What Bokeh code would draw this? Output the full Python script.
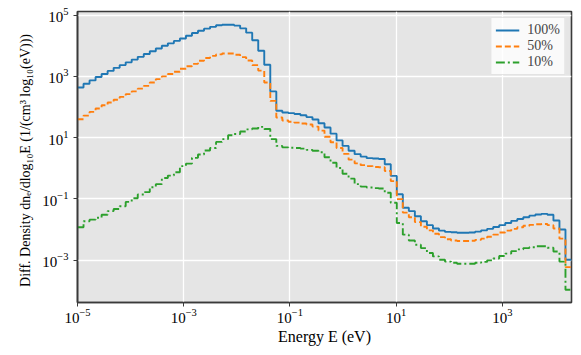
import numpy as np
from bokeh.plotting import figure
from bokeh.models import Range1d, FixedTicker
from bokeh.embed import file_html
from bokeh.resources import INLINE

# Energy bin grid (log-spaced histogram bins, 1e-5 eV .. 2e4 eV)
e_min = 1e-5
e_max = 2e4
n_bins = 82
edges = np.logspace(np.log10(e_min), np.log10(e_max), n_bins + 1)

# Series values, stored as log10(dn/dlog10E)
log_100 = [2.64, 2.76, 2.87, 2.98, 3.08, 3.18, 3.28, 3.37, 3.46, 3.55,
           3.64, 3.73, 3.82, 3.91, 4.00, 4.08, 4.16, 4.24, 4.33, 4.42,
           4.49, 4.56, 4.62, 4.67, 4.69, 4.69, 4.66, 4.57, 4.43, 4.18,
           3.84, 3.38, 2.51, 1.88, 1.82, 1.80, 1.77, 1.73, 1.67, 1.59,
           1.47, 1.33, 1.13, 0.91, 0.73, 0.57, 0.46, 0.38, 0.33, 0.32,
           0.30, 0.13, -0.25, -0.85, -1.29, -1.40, -1.57, -1.73, -1.86, -1.97,
           -2.04, -2.08, -2.09, -2.11, -2.11, -2.10, -2.07, -2.03, -1.98, -1.92,
           -1.86, -1.79, -1.72, -1.66, -1.60, -1.55, -1.51, -1.49, -1.52, -1.71,
           -2.00, -2.99]

log_50 = [1.60, 1.72, 1.84, 1.95, 2.06, 2.15, 2.24, 2.33, 2.42, 2.51,
          2.60, 2.69, 2.80, 2.91, 3.00, 3.08, 3.15, 3.25, 3.33, 3.41,
          3.51, 3.60, 3.67, 3.72, 3.75, 3.75, 3.71, 3.63, 3.52, 3.37,
          3.19, 2.80, 2.20, 1.66, 1.56, 1.52, 1.49, 1.46, 1.43, 1.36,
          1.23, 1.03, 0.85, 0.66, 0.47, 0.28, 0.16, 0.10, 0.07, 0.04,
          0.03, -0.09, -0.42, -1.01, -1.45, -1.60, -1.76, -1.91, -2.03, -2.14,
          -2.25, -2.32, -2.36, -2.38, -2.38, -2.37, -2.34, -2.30, -2.24, -2.17,
          -2.10, -2.04, -1.98, -1.93, -1.88, -1.85, -1.83, -1.82, -1.86, -1.97,
          -2.30, -3.23]

log_10 = [-1.93, -1.73, -1.68, -1.62, -1.52, -1.40, -1.33, -1.24, -1.10, -0.98,
          -0.86, -0.78, -0.62, -0.52, -0.32, -0.24, -0.13, 0.07, 0.15, 0.34,
          0.45, 0.58, 0.66, 0.86, 0.95, 1.08, 1.12, 1.20, 1.27, 1.30,
          1.35, 1.28, 0.95, 0.73, 0.68, 0.67, 0.66, 0.64, 0.60, 0.57,
          0.52, 0.36, 0.18, 0.01, -0.18, -0.34, -0.52, -0.60, -0.63, -0.65,
          -0.66, -0.80, -1.13, -1.79, -2.17, -2.36, -2.50, -2.61, -2.77, -2.88,
          -2.99, -3.05, -3.09, -3.12, -3.12, -3.12, -3.09, -3.06, -3.01, -2.95,
          -2.87, -2.79, -2.71, -2.65, -2.61, -2.58, -2.55, -2.55, -2.60, -2.72,
          -3.05, -3.97]

series_labels = ["100%", "50%", "10%"]
x_ticks = [1e-5, 1e-3, 1e-1, 1e1, 1e3]
y_ticks = [1e-3, 1e-1, 1e1, 1e3, 1e5]
y_lo, y_hi = 10 ** -4.387, 10 ** 5.121

SERIF = "Liberation Serif"

p = figure(width=576, height=350,
           x_axis_type="log", y_axis_type="log",
           x_range=Range1d(e_min, e_max), y_range=Range1d(y_lo, y_hi),
           output_backend="svg", toolbar_location=None,
           min_border_left=77, min_border_right=5,
           min_border_top=11, min_border_bottom=48)

p.background_fill_color = "#E5E5E5"
p.border_fill_color = "white"
p.outline_line_color = "#3a3a3a"
p.outline_line_width = 1.6

colors = ["#1f77b4", "#ff7f0e", "#2ca02c"]
dashes = ["solid", "6 3", "9 3 2 3"]
for vals, lab, col, dash in zip([log_100, log_50, log_10], series_labels, colors, dashes):
    yv = [10 ** v for v in vals]
    yv = yv + [yv[-1]]
    p.step(list(edges), yv, mode="after", line_color=col, line_width=1.9,
           line_dash=dash, legend_label=lab)

for ax, ticks in ((p.xaxis[0], x_ticks), (p.yaxis[0], y_ticks)):
    ax.ticker = FixedTicker(ticks=ticks, minor_ticks=[])
    ax.major_tick_out = 4
    ax.major_tick_in = 0
    ax.minor_tick_out = 0
    ax.minor_tick_in = 0
    ax.major_tick_line_color = "#3a3a3a"
    ax.axis_line_color = "#3a3a3a"
    ax.axis_line_width = 1.6
    ax.major_label_text_font = SERIF
    ax.major_label_text_font_size = "15px"
    ax.major_label_text_color = "black"
    ax.axis_label_text_font = SERIF
    ax.axis_label_text_font_style = "normal"
    ax.axis_label_text_color = "black"

p.xaxis.axis_label = "Energy E (eV)"
p.yaxis.axis_label = "Diff. Density  dnₑ/dlog₁₀E  (1/(cm³ log₁₀(eV)))"
p.xaxis.axis_label_text_font_size = "16px"
p.yaxis.axis_label_text_font_size = "14px"
p.xaxis.major_label_standoff = 2
p.yaxis.major_label_standoff = 5
p.xaxis.axis_label_standoff = 2
p.yaxis.axis_label_standoff = 6

p.xgrid.grid_line_color = "white"
p.ygrid.grid_line_color = "white"
p.xgrid.grid_line_width = 1.3
p.ygrid.grid_line_width = 1.3
p.xgrid.ticker = FixedTicker(ticks=x_ticks)
p.ygrid.ticker = FixedTicker(ticks=y_ticks)

lg = p.legend[0]
lg.location = "top_right"
lg.margin = 6
lg.padding = 4
lg.spacing = 0
lg.label_text_font = SERIF
lg.label_text_font_size = "14px"
lg.label_height = 14
lg.glyph_height = 14
lg.glyph_width = 24
lg.label_standoff = 8
lg.background_fill_color = "white"
lg.background_fill_alpha = 0.8
lg.border_line_color = "#cccccc"
lg.border_line_width = 1

open("out.html", "w").write(file_html(p, INLINE))
